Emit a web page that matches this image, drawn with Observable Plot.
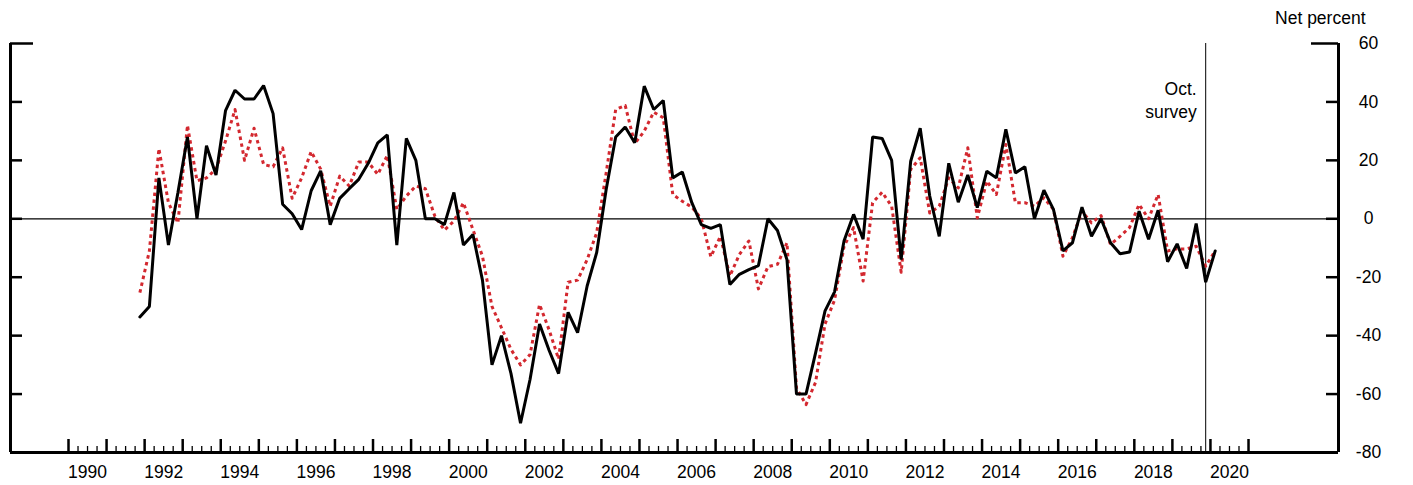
<!DOCTYPE html>
<html><head><meta charset="utf-8">
<script src="https://cdn.jsdelivr.net/npm/d3@7"></script>
<script src="https://cdn.jsdelivr.net/npm/@observablehq/plot@0.6"></script>
<style>body{margin:0;background:#fff}</style>
</head><body><div id="chart"></div>
<script>
const startYear = 1991, startQuarter = 4;
const black = [-33.6,-30,14,-9,9,28,0,25,15,37,44,41,41,45.6,36,5,1.7,-3.7,9.6,16.4,-2,7,10.3,13.5,19,26,28.7,-9,27.5,20,0,0,-2,9,-9,-5.4,-21,-50,-40,-53,-70,-55,-36,-45,-53,-32,-39,-23,-11.6,10,28,31.4,26,45.4,37.4,40.5,14,16,5.5,-2,-3.3,-2,-22.5,-19,-17.4,-16,0,-4,-14,-60,-60,-46,-31.5,-25,-7.5,1.5,-7,28,27.5,20,-14,19.7,31,7.8,-6,19,5.7,15,3.8,16.3,14,30.6,15.7,17.8,0,9.8,3.2,-11,-8.2,4,-6,0,-8.2,-12,-11.4,2.6,-7,2.9,-14.7,-8.6,-17,-1.6,-21.7,-11];
const red = [-25.3,-11,24,5.5,-1.4,32,13,14,17,26.6,37.4,20,31,18.6,17.8,24.3,7,14,23,17,4.3,14.6,11.2,19.4,19.4,15.2,21.7,3.2,7.8,11.2,10.3,0.9,-3.9,-0.8,5.5,-3.7,-12.8,-30,-37.3,-44.7,-50,-46.5,-29.3,-38,-48,-21.7,-21,-14,-4.8,15.7,37.4,38.8,25.7,30,36.5,34.6,8.3,6,4,0,-13,-6,-19.6,-12.2,-7.6,-24,-16.4,-15.6,-8.2,-58,-63.6,-56,-36,-27.8,-9.4,-3,-21.3,5.5,9.1,4.3,-18.3,16.9,20.9,2,4.3,14,10.6,24.3,0.3,12.9,8.3,25.4,5.5,5.5,4.3,7.2,3.2,-12.8,-6.5,2.6,-1.4,1.1,-8.8,-6,-3,4.9,0,8.3,-11,-10.3,-10.3,-9.4,-16.2,-11];
const yTicks = [60,40,20,0,-20,-40,-60,-80];
const yearLabels = d3.range(1990, 2021, 2);
const octSurvey = 2019.875;

const t = i => startYear + (startQuarter - 1 + i) / 4 + 0.125;
const blackData = black.map((v,i)=>({t:t(i),v}));
const redData = red.map((v,i)=>({t:t(i),v}));
const quarters = d3.range(1990, 2021.01, 0.25).map(q=>({q, major: Math.abs(q-Math.round(q))<1e-6}));

const xL = 1990 + (10-68)/38.065, xR = 1990 + (1338-68)/38.065;
const pxX = p => p/38.065, pxY = p => p/2.921;

const plot = Plot.plot({
  width: 1413, height: 485,
  marginTop: 0, marginBottom: 0, marginLeft: 0, marginRight: 0,
  x: {domain:[1990,2021], range:[68,68+31*38.065], axis:null},
  y: {domain:[-80,60], range:[452,43], axis:null},
  style: {fontFamily:"Liberation Sans, Arial, sans-serif", fontSize:"17.5px", background:"#fff"},
  marks: [
    Plot.ruleY([0], {x1:xL, x2:xR, stroke:"#000", strokeWidth:1.2}),
    Plot.ruleX([octSurvey], {y1:-80, y2:60, stroke:"#000", strokeWidth:1}),
    Plot.line(redData, {x:"t", y:"v", stroke:"#d3282f", strokeWidth:3, strokeDasharray:"3.5 3.5", strokeLinecap:"butt"}),
    Plot.line(blackData, {x:"t", y:"v", stroke:"#000", strokeWidth:3, strokeLinejoin:"miter"}),
    Plot.ruleX([xL, xR], {y1:-80, y2:60, stroke:"#000", strokeWidth:3}),
    Plot.ruleY([-80], {x1:xL, x2:xR, stroke:"#000", strokeWidth:3}),
    Plot.ruleY(yTicks.filter(d=>d>-80), {x1:xL, x2:d=>xL+pxX(d===60?23:12), stroke:"#000", strokeWidth:2.5}),
    Plot.ruleY(yTicks.filter(d=>d>-80), {x1:d=>xR-pxX(d===60?27:12), x2:xR, stroke:"#000", strokeWidth:2.5}),
    Plot.ruleX(quarters, {x:"q", y1:-80, y2:d=>-80+pxY(d.major?13:6), stroke:"#000", strokeWidth:d=>d.major?2.5:1.3}),
    Plot.text(yTicks, {x:xR+pxX(30), y:d=>d, text:d=>String(d), textAnchor:"middle", fill:"#000"}),
    Plot.text(yearLabels, {x:d=>d+0.5, y:-80-pxY(20), text:d=>String(d), textAnchor:"middle", fill:"#000"}),
    Plot.text(["Net percent"], {x:xR+pxX(27), y:60+pxY(25), text:d=>d, textAnchor:"end", fill:"#000"}),
    Plot.text(["Oct.","survey"], {x:octSurvey-pxX(9), y:(d,i)=>60-pxY(46+i*23), text:d=>d, textAnchor:"end", fill:"#000"})
  ]
});
document.getElementById("chart").append(plot);
</script>
</body></html>
